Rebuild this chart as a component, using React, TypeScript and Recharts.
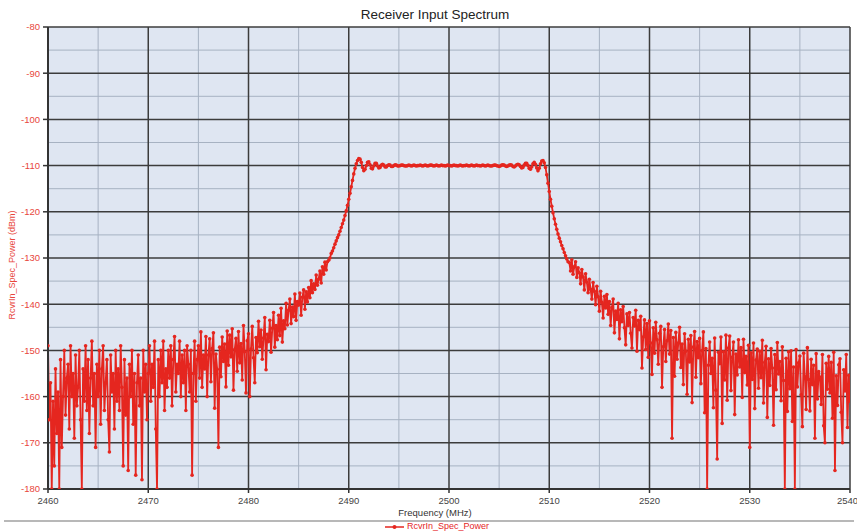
import React from 'react';
import { LineChart, Line, XAxis, YAxis, CartesianGrid, Legend } from 'recharts';

const SERIES_NAME = 'RcvrIn_Spec_Power';
const TITLE = 'Receiver Input Spectrum';
const X_LABEL = 'Frequency (MHz)';
const Y_LABEL = 'RcvrIn_Spec_Power (dBm)';

const FREQ_START = 2460;
const FREQ_STEP = 0.125;

// Power (dBm): one row per MHz starting at 2460, samples every 0.125 MHz
const POWER_ROWS: number[][] = [
  [-149, -165, -157, -180, -161, -175, -154, -168], // 2460
  [-159, -180, -152, -171, -160, -150, -164, -156], // 2461
  [-153, -167, -149, -160, -155, -169, -151, -162], // 2462
  [-158, -150, -165, -180, -154, -161, -149, -163], // 2463
  [-152, -168, -156, -148, -162, -155, -171, -153], // 2464
  [-160, -150, -166, -154, -149, -163, -157, -152], // 2465
  [-165, -172, -151, -159, -155, -167, -150, -161], // 2466
  [-154, -163, -149, -158, -175, -152, -164, -156], // 2467
  [-176, -153, -160, -150, -166, -155, -177, -157], // 2468
  [-151, -162, -156, -178, -150, -159, -153, -165], // 2469
  [-155, -149, -161, -153, -158, -148, -167, -180], // 2470
  [-152, -160, -150, -157, -148, -163, -154, -158], // 2471
  [-150, -156, -149, -162, -152, -147, -159, -153], // 2472
  [-155, -148, -160, -151, -157, -150, -163, -149], // 2473
  [-153, -159, -150, -177, -155, -148, -161, -152], // 2474
  [-149, -156, -146, -158, -151, -154, -147, -160], // 2475
  [-151, -147.5, -156.8, -149.6, -146.2, -162.5, -150.8, -154.1], // 2476
  [-171, -149.3, -155.7, -147.1, -152.4, -148.6, -157.9, -145.8], // 2477
  [-153.2, -146.7, -151.4, -145.3, -158.6, -149.8, -147.4, -154.5], // 2478
  [-145.9, -152.7, -148.5, -156.4, -144.6, -150.3, -159.2, -147.9], // 2479
  [-146.4, -160, -149.7, -144.8, -151.6, -157, -147.2, -150.5], // 2480
  [-143.7, -149.2, -145.6, -151.9, -147.3, -142.9, -154.2, -146.5], // 2481
  [-148.1, -143.5, -150.4, -145.2, -141.8, -149.3, -144.6, -147.7], // 2482
  [-142.4, -146.8, -140.9, -148.2, -143.6, -145.3, -139.8, -144.5], // 2483
  [-141.3, -138.9, -144.2, -140.6, -142.7, -137.8, -143.5, -139.4], // 2484
  [-140.2, -137.6, -142.4, -138.5, -136.9, -141.1, -137.3, -139.5], // 2485
  [-136.4, -138.6, -134.9, -137.5, -135.6, -136.8, -133.7, -135.9], // 2486
  [-134.6, -132.8, -135.4, -131.9, -133.5, -130.9, -132.6, -130.8], // 2487
  [-130.5, -130, -129, -128.5, -127.8, -127, -126.3, -125.6], // 2488
  [-125, -124.2, -123.4, -122.6, -121.8, -120.8, -119.8, -118.6], // 2489
  [-117.3, -116, -114.6, -113.2, -111.8, -110.6, -109.6, -108.9], // 2490
  [-108.5, -108.6, -109.3, -110.4, -111.1, -110.8, -110, -109.3], // 2491
  [-109.2, -109.8, -110.6, -110.7, -110.1, -109.5, -109.5, -110.1], // 2492
  [-110.5, -110.4, -109.9, -109.7, -109.9, -110.3, -110.3, -110], // 2493
  [-109.8, -109.9, -110.2, -110.2, -110, -109.8, -109.9, -110.1], // 2494
  [-110.1, -110, -109.9, -109.9, -110, -110.1, -110.1, -110], // 2495
  [-109.9, -110, -110.1, -110, -109.9, -110, -110.1, -110], // 2496
  [-110, -109.9, -110, -110.1, -110, -109.9, -110, -110.1], // 2497
  [-110, -109.9, -109.9, -110, -110.1, -110, -109.9, -110], // 2498
  [-110.1, -110, -109.9, -110, -110, -110.1, -110, -109.9], // 2499
  [-110, -110, -110.1, -110, -109.9, -110, -110, -110.1], // 2500
  [-110, -109.9, -110, -110.1, -110, -110, -109.9, -110], // 2501
  [-110.1, -110, -109.9, -110, -110.1, -110, -109.9, -110], // 2502
  [-110, -110.1, -110, -109.9, -110, -110.1, -110, -109.9], // 2503
  [-110, -110.1, -110.1, -110, -109.9, -109.9, -110, -110.1], // 2504
  [-110.2, -110.1, -109.9, -109.8, -109.9, -110.1, -110.2, -110.1], // 2505
  [-109.9, -109.8, -109.9, -110.2, -110.3, -110.1, -109.8, -109.7], // 2506
  [-109.8, -110.2, -110.5, -110.4, -109.9, -109.5, -109.5, -110], // 2507
  [-110.6, -110.8, -110.3, -109.6, -109.3, -109.7, -110.5, -111.1], // 2508
  [-110.6, -109.6, -109.0, -108.9, -109.4, -110.4, -112, -113.8], // 2509
  [-115.6, -117.3, -118.8, -120.2, -121.5, -122.7, -123.8, -124.8], // 2510
  [-125.7, -126.5, -127.3, -128.0, -128.8, -129.5, -130.2, -130.8], // 2511
  [-131, -132.8, -130.4, -133.5, -131.9, -130.8, -134.2, -132.1], // 2512
  [-133.2, -135.6, -132.5, -134.1, -136.9, -133.4, -135.2, -137.5], // 2513
  [-134.6, -136.8, -138.9, -135.3, -137.2, -140.1, -136.1, -138.4], // 2514
  [-141.5, -137.2, -139.6, -143, -138.3, -140.8, -137.9, -142.2], // 2515
  [-139.4, -144.6, -140.7, -138.9, -146.2, -141.5, -143.3, -139.8], // 2516
  [-147.5, -141.2, -143.8, -140.5, -145.1, -148.8, -142.1, -144.6], // 2517
  [-141.8, -146.3, -149.5, -142.9, -144.7, -141.3, -150.2, -143.5], // 2518
  [-145.5, -142.6, -153.8, -147.1, -143.4, -149.8, -144.2, -151.5], // 2519
  [-143.6, -148.4, -155.2, -145.1, -150.6, -143.9, -147.7, -153], // 2520
  [-146.3, -144.8, -158, -149.2, -145.5, -152.4, -147.9, -144.3], // 2521
  [-150.8, -145.7, -169, -147.2, -155.6, -146.1, -151.9, -148.4], // 2522
  [-145, -153.7, -148.6, -157.4, -146.4, -150.2, -159.5, -147.6], // 2523
  [-152.5, -146.8, -161.3, -149.3, -145.9, -155.8, -148.1, -151.6], // 2524
  [-147.4, -157.2, -150.1, -146, -163.5, -149.6, -180, -153.2], // 2525
  [-148.2, -155, -151.7, -162.4, -147.3, -158.6, -173.5, -150.4], // 2526
  [-152.9, -147.1, -165.8, -150.3, -156.4, -146.7, -160.8, -149.5], // 2527
  [-146.9, -158.7, -151.5, -148.2, -163.9, -150.8, -155.3, -147.7], // 2528
  [-153.6, -149.4, -160.2, -147.6, -154.8, -151.3, -157.5, -148.9], // 2529
  [-171, -150.5, -156.3, -148.4, -162.6, -152.1, -149.7, -158.2], // 2530
  [-150.2, -155.9, -147.8, -161.4, -152.6, -149.1, -164.5, -151.8], // 2531
  [-157.6, -149.6, -153.8, -166.2, -150.9, -158.5, -148.3, -155.1], // 2532
  [-152.4, -160.9, -149.2, -156.5, -180, -151.7, -163.2, -150.3], // 2533
  [-158.3, -150.1, -165.4, -153.6, -180, -149.8, -157.9, -152.7], // 2534
  [-151.2, -159.6, -166.5, -150.6, -155.7, -162.8, -149.4, -156.3], // 2535
  [-163.1, -151.9, -157.4, -153.2, -169, -150.7, -160.5, -154.6], // 2536
  [-155.8, -161.7, -150.9, -166.3, -170, -152.8, -158.4, -151.3], // 2537
  [-159.2, -152.6, -164.7, -150.4, -176, -155.5, -161.9, -153.1], // 2538
  [-151.8, -163.4, -170, -154.2, -158.8, -150.9, -166.7, -155.4], // 2539
  [-161], // 2540
];

const X_TICKS = [2460, 2470, 2480, 2490, 2500, 2510, 2520, 2530, 2540];
const X_MINOR = [2465, 2475, 2485, 2495, 2505, 2515, 2525, 2535];
const Y_TICKS = [-80, -90, -100, -110, -120, -130, -140, -150, -160, -170, -180];
const Y_MINOR = [-85, -95, -105, -115, -125, -135, -145, -155, -165, -175];

const data = POWER_ROWS.flatMap((row, r) =>
  row.map((p, j) => ({ freq: FREQ_START + r + j * FREQ_STEP, power: p }))
);

const FONT = '"Liberation Sans", Arial, sans-serif';
const RED = '#e5261f';

const LegendContent = () => (
  <div style={{ position: 'relative', height: 14, fontFamily: FONT }}>
    <svg width={22} height={10} style={{ position: 'absolute', left: 384, top: 4 }}>
      <line x1={1} y1={5} x2={20} y2={5} stroke={RED} strokeWidth={1.5} />
      <circle cx={10.5} cy={5} r={2} fill={RED} />
    </svg>
    <span style={{ position: 'absolute', left: 407, top: 3, fontSize: 9, color: RED, lineHeight: '11px', whiteSpace: 'nowrap' }}>
      {SERIES_NAME}
    </span>
  </div>
);

const YLabel = (props: any) => {
  const vb = props.viewBox || {};
  const cy = (vb.y || 0) + (vb.height || 0) / 2 + 7;
  return (
    <text
      x={12}
      y={cy}
      transform={`rotate(-90, 12, ${cy})`}
      textAnchor="middle"
      dominantBaseline="central"
      fontSize={9}
      fill="#e8463c"
      fontFamily={FONT}
    >
      {Y_LABEL}
    </text>
  );
};

export default function App() {
  return (
    <div style={{ position: 'absolute', left: 0, top: 0, width: 857, height: 532, background: '#fff', fontFamily: FONT }}>
      <div
        style={{
          position: 'absolute',
          top: 6,
          left: 0,
          width: 870,
          textAlign: 'center',
          fontSize: 13.5,
          color: '#222',
          fontFamily: FONT,
          lineHeight: '18px',
        }}
      >
        {TITLE}
      </div>
      <div style={{ position: 'absolute', left: 4, top: 520, width: 850, height: 1.5, background: '#b8b8b8' }} />
      <LineChart
        width={857}
        height={532}
        data={data}
        margin={{ top: 27, right: 7, bottom: 0, left: 0 }}
        style={{ position: 'absolute', left: 0, top: 0 }}
      >
        <CartesianGrid
          fill="#dfe6f2"
          stroke="#a7b2c2"
          strokeWidth={1}
          horizontalValues={Y_MINOR}
          verticalValues={X_MINOR}
        />
        <CartesianGrid
          stroke="#3c3c3c"
          strokeWidth={1.5}
          horizontalValues={Y_TICKS}
          verticalValues={X_TICKS}
        />
        <XAxis
          dataKey="freq"
          type="number"
          domain={[2460, 2540]}
          ticks={X_TICKS}
          allowDataOverflow
          height={29}
          tickSize={4}
          tickLine={{ stroke: '#333', strokeWidth: 1.5 }}
          axisLine={{ stroke: '#333', strokeWidth: 2 }}
          tick={{ fontSize: 9.5, fill: '#444', fontFamily: FONT }}
          tickMargin={4}
          label={{ value: X_LABEL, position: 'insideBottom', offset: 2, dx: -14, fontSize: 9.5, fill: '#333', fontFamily: FONT }}
        />
        <YAxis
          type="number"
          domain={[-180, -80]}
          ticks={Y_TICKS}
          allowDataOverflow
          width={48}
          tickSize={5}
          tickLine={{ stroke: '#333', strokeWidth: 1.5 }}
          axisLine={{ stroke: '#333', strokeWidth: 2 }}
          tick={{ fontSize: 9.5, fill: '#e8463c', fontFamily: FONT }}
          tickMargin={3}
          label={<YLabel />}
        />
        <Legend verticalAlign="bottom" height={14} content={<LegendContent />} wrapperStyle={{ left: 0, width: 857, bottom: 0 }} />
        <Line
          type="linear"
          dataKey="power"
          name={SERIES_NAME}
          stroke={RED}
          strokeWidth={1.8}
          dot={{ r: 1.8, fill: RED, stroke: 'none' }}
          isAnimationActive={false}
        />
      </LineChart>
    </div>
  );
}
